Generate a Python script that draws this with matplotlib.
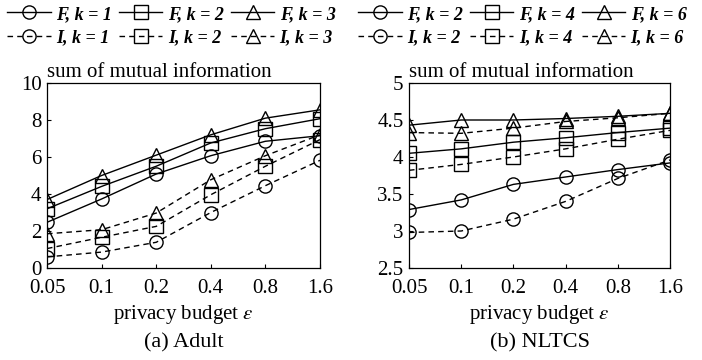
import numpy as np
import matplotlib
matplotlib.use("Agg")
from matplotlib import pyplot as plt

plt.rcParams["font.family"] = ["Liberation Serif", "DejaVu Serif"]
plt.rcParams["mathtext.fontset"] = "stix"

eps_labels = ["0.05", "0.1", "0.2", "0.4", "0.8", "1.6"]

# Adult
adult_F1 = [2.47, 3.73, 5.08, 6.07, 6.85, 7.15]
adult_F2 = [3.2, 4.41, 5.5, 6.76, 7.53, 8.07]
adult_F3 = [3.7, 5.0, 6.1, 7.2, 8.1, 8.55]
adult_I1 = [0.6, 0.86, 1.39, 3.0, 4.45, 5.82]
adult_I2 = [1.05, 1.66, 2.25, 3.96, 5.5, 6.94]
adult_I3 = [1.85, 2.07, 2.97, 4.77, 6.07, 7.2]
adult_k = [1, 2, 3]

# NLTCS
nltcs_F2 = [3.29, 3.42, 3.63, 3.73, 3.83, 3.92]
nltcs_F4 = [4.05, 4.11, 4.2, 4.26, 4.33, 4.39]
nltcs_F6 = [4.43, 4.5, 4.5, 4.52, 4.55, 4.59]
nltcs_I2 = [2.98, 3.0, 3.16, 3.4, 3.71, 3.96]
nltcs_I4 = [3.82, 3.9, 4.0, 4.11, 4.24, 4.36]
nltcs_I6 = [4.33, 4.32, 4.39, 4.48, 4.53, 4.59]
nltcs_k = [2, 4, 6]

markers = ["o", "s", "^"]

fig = plt.figure(figsize=(7.02, 3.6), dpi=100)
ax1 = fig.add_axes([47 / 702, 92 / 360, 273 / 702, 185 / 360])
ax2 = fig.add_axes([409 / 702, 92 / 360, 261 / 702, 185 / 360])


def draw(ax, F, I, ks, ylim, yticks, yticklabels, leg_x, sub):
    x = np.arange(len(eps_labels))
    handles = []
    for f, i, k, m in zip(F, I, ks, markers):
        hf, = ax.plot(x, f, color="black", lw=1.0, marker=m, ms=9.5,
                      mfc="none", mec="black", mew=1.0,
                      label=f"F, k = {k}")
        hi, = ax.plot(x, i, color="black", lw=1.0, ls=(0, (4, 3)), marker=m,
                      ms=9.5, mfc="none", mec="black", mew=1.0,
                      label=f"I, k = {k}")
        handles += [hf, hi]
    ax.set_xlim(0, len(eps_labels) - 1)
    ax.set_ylim(*ylim)
    ax.set_xticks(x)
    ax.set_xticklabels(eps_labels)
    ax.set_yticks(yticks)
    ax.set_yticklabels(yticklabels)
    ax.tick_params(direction="in", labelsize=15, length=3)
    ax.tick_params(axis="x", pad=8)
    ax.tick_params(axis="y", pad=4)
    for s in ax.spines.values():
        s.set_linewidth(0.9)
    ax.text(0, 1.032, "sum of mutual information", transform=ax.transAxes,
            ha="left", va="baseline", fontsize=15)
    ax.text(0.5, -0.25, "privacy budget $\\varepsilon$", transform=ax.transAxes,
            ha="center", va="center", fontsize=15)
    ax.text(0.5, -0.405, sub, transform=ax.transAxes,
            ha="center", va="center", fontsize=16)
    leg = fig.legend(handles=handles, ncol=3, loc="upper left",
                     bbox_to_anchor=(leg_x, 1.004), frameon=False,
                     prop={"weight": "bold", "style": "italic", "size": 13},
                     handlelength=2.4, handletextpad=0.3, columnspacing=0.4,
                     labelspacing=0.35, borderaxespad=0.2, borderpad=0.2)
    return leg


draw(ax1, [adult_F1, adult_F2, adult_F3], [adult_I1, adult_I2, adult_I3],
     adult_k, (0, 10), [0, 2, 4, 6, 8, 10], ["0", "2", "4", "6", "8", "10"],
     0.0, "(a) Adult")
draw(ax2, [nltcs_F2, nltcs_F4, nltcs_F6], [nltcs_I2, nltcs_I4, nltcs_I6],
     nltcs_k, (2.5, 5), [2.5, 3, 3.5, 4, 4.5, 5],
     ["2.5", "3", "3.5", "4", "4.5", "5"], 351 / 702, "(b) NLTCS")

fig.savefig("out.png", dpi=100)
